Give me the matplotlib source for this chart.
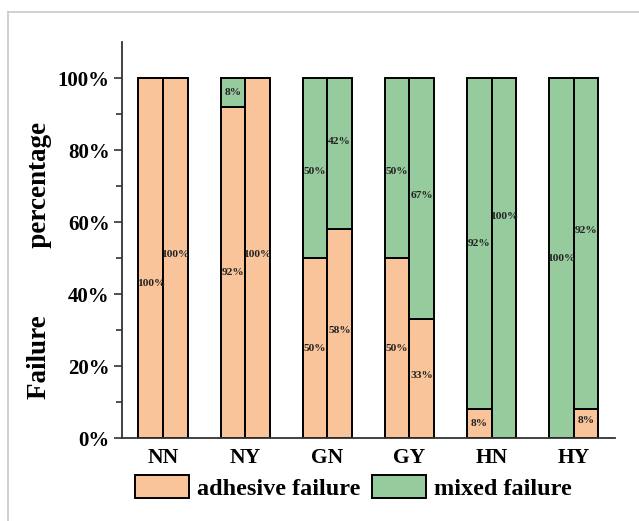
import matplotlib.pyplot as plt
import numpy as np
from matplotlib.ticker import FixedLocator, FuncFormatter
from matplotlib.lines import Line2D
from matplotlib.patches import Patch

plt.rcParams['font.family'] = ['Liberation Serif', 'DejaVu Serif']
plt.rcParams['font.weight'] = 'bold'

groups = ['NN', 'NY', 'GN', 'GY', 'HN', 'HY']
adhesive_1 = [100, 92, 50, 50, 8, 0]
mixed_1 = [0, 8, 50, 50, 92, 100]
adhesive_2 = [100, 100, 58, 33, 0, 8]
mixed_2 = [0, 0, 42, 67, 100, 92]

# small vertical nudges of the in-bar labels (as in the original figure)
nudge_adh_1 = [-7, 0, 0, 0, 0, 0]
nudge_mix_1 = [0, 0, -1, -1, 0, 0]
nudge_adh_2 = [1, 1, 1, 1, 0, 1]
nudge_mix_2 = [0, 0, 3.5, 1, 11.5, 3.6]

c_adh = '#F9C49A'
c_mix = '#96CB9E'

fig = plt.figure(figsize=(6.39, 5.21), dpi=100)
ax = fig.add_axes([0.191, 0.159, 0.771, 0.760])

x = np.arange(len(groups))
w = 0.3
bw = 1.4

def draw(pos, adh, mix, n_adh, n_mix):
    ax.bar(pos, adh, w, color=c_adh, edgecolor='black', linewidth=bw, zorder=2)
    ax.bar(pos, mix, w, bottom=adh, color=c_mix, edgecolor='black', linewidth=bw, zorder=2)
    for i in range(len(pos)):
        if adh[i] > 0:
            ax.text(pos[i], adh[i] / 2 + n_adh[i], f'{adh[i]}%', ha='center', va='center',
                    fontsize=8.2, fontweight='bold', color='#222222', zorder=3)
        if mix[i] > 0:
            ax.text(pos[i], adh[i] + mix[i] / 2 + n_mix[i], f'{mix[i]}%', ha='center', va='center',
                    fontsize=8.2, fontweight='bold', color='#222222', zorder=3)

draw(x - w / 2, adhesive_1, mixed_1, nudge_adh_1, nudge_mix_1)
draw(x + w / 2, adhesive_2, mixed_2, nudge_adh_2, nudge_mix_2)

ax.set_xlim(-0.5, 5.5)
ax.set_ylim(0, 110)
ax.set_xticks(x)
ax.set_xticklabels(groups, fontsize=15.5, fontweight='bold')
ax.yaxis.set_major_locator(FixedLocator([0, 20, 40, 60, 80, 100]))
ax.yaxis.set_minor_locator(FixedLocator([10, 30, 50, 70, 90]))
ax.yaxis.set_major_formatter(FuncFormatter(lambda v, p: f'{int(v)}%'))
for lab in ax.get_yticklabels():
    lab.set_fontsize(15)
    lab.set_fontweight('bold')
ax.tick_params(axis='y', which='major', length=6, width=1.2, direction='out', pad=3, color='#333333')
ax.tick_params(axis='y', which='minor', length=4, width=1.2, direction='out', color='#333333')
ax.tick_params(axis='x', length=0, pad=7)

for s in ['top', 'right']:
    ax.spines[s].set_visible(False)
for s in ['left', 'bottom']:
    ax.spines[s].set_linewidth(1.3)
    ax.spines[s].set_color('#333333')

ax.set_ylabel('Failure          percentage', fontsize=19.5, fontweight='bold')
ax.yaxis.set_label_coords(-0.142, 0.45)

handles = [Patch(facecolor=c_adh, edgecolor='black', linewidth=1.4, label='adhesive failure'),
           Patch(facecolor=c_mix, edgecolor='black', linewidth=1.4, label='mixed failure')]
fig.legend(handles=handles, loc='center', bbox_to_anchor=(0.553, 0.065), ncol=2, frameon=False,
           prop={'family': 'Liberation Serif', 'weight': 'bold', 'size': 17.5},
           handlelength=2.2, handleheight=1.1, handletextpad=0.33, columnspacing=0.5)

# light grey frame lines of the original figure
fig.add_artist(Line2D([7.5 / 639, 7.5 / 639], [0, 1 - 12 / 521], transform=fig.transFigure,
                      color='#c8c8c8', linewidth=1.2))
fig.add_artist(Line2D([7.5 / 639, 1], [1 - 12 / 521, 1 - 12 / 521], transform=fig.transFigure,
                      color='#c8c8c8', linewidth=1.2))

fig.savefig('out.png', dpi=100)
